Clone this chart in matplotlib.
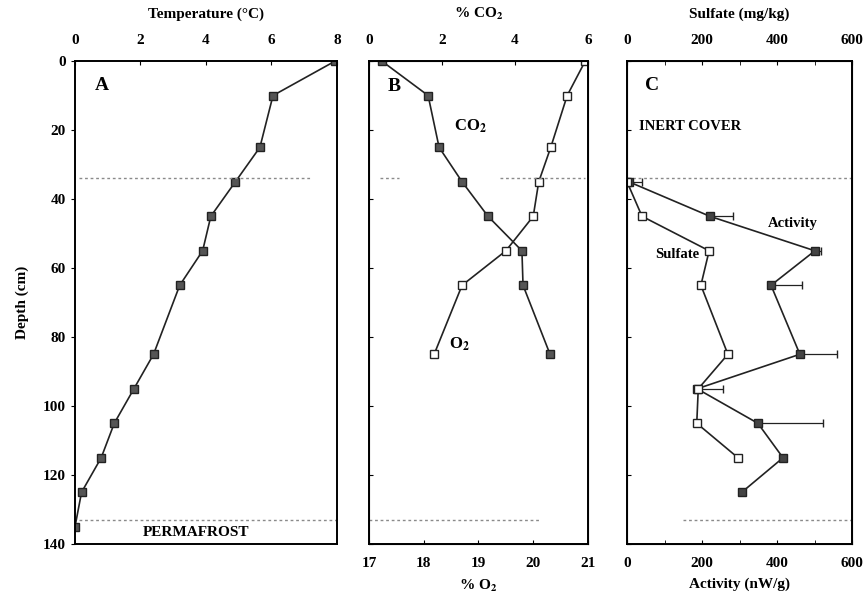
import matplotlib
matplotlib.use("Agg")
import matplotlib.pyplot as plt

plt.rcParams['font.family'] = ['Liberation Serif', 'DejaVu Serif']
plt.rcParams['font.size'] = 11
plt.rcParams['font.weight'] = 'bold'
plt.rcParams['axes.labelweight'] = 'bold'
plt.rcParams['mathtext.fontset'] = 'stix'
plt.rcParams['mathtext.default'] = 'bf'

# Panel A - temperature profile
temp_depth = [0, 10, 25, 35, 45, 55, 65, 85, 95, 105, 115, 125, 135]
temp_c = [7.95, 6.05, 5.65, 4.9, 4.15, 3.9, 3.2, 2.4, 1.8, 1.2, 0.8, 0.2, 0.0]

# Panel B - soil gas
gas_depth = [0, 10, 25, 35, 45, 55, 65, 85]
co2_pct = [0.35, 1.62, 1.92, 2.55, 3.26, 4.19, 4.22, 4.96]
o2_pct = [20.95, 20.62, 20.32, 20.1, 20.0, 19.5, 18.7, 18.19]

# Panel C - sulfate and microbial activity
sulf_depth = [35, 45, 55, 65, 85, 95, 105, 115]
sulfate = [0, 40, 219, 197, 269, 190, 186, 296]
act_depth = [35, 45, 55, 65, 85, 95, 105, 115, 125]
activity = [5, 221, 501, 384, 461, 187, 349, 416, 306]
activity_err = [35, 62, 15, 83, 99, 69, 173, 0, 0]

fig = plt.figure(figsize=(8.67, 6.02), dpi=100)
bottom, height = 0.0963, 0.8023
axA = fig.add_axes([0.0865, bottom, 0.302, height])
axB = fig.add_axes([0.4256, bottom, 0.2526, height])
axC = fig.add_axes([0.7232, bottom, 0.2595, height])

dash = dict(color='#8a8a8a', lw=1.0, ls=(0, (2, 2)))
line = dict(color='#222222', lw=1.2, marker='s', ms=5.5, mec='#222222')

for ax in (axA, axB, axC):
    ax.set_ylim(140, 0)
    for s in ax.spines.values():
        s.set_linewidth(1.4)
    ax.set_yticks(range(0, 141, 20))

# A
axA.plot(temp_c, temp_depth, mfc='#555555', **line)
axA.set_xlim(0, 8)
axA.xaxis.tick_top()
axA.xaxis.set_label_position('top')
axA.set_xticks([0, 2, 4, 6, 8])
axA.set_xlabel('Temperature (°C)', labelpad=12)
axA.set_ylabel('Depth (cm)', labelpad=10)
axA.tick_params(axis='x', direction='in', length=3, pad=10)
axA.tick_params(axis='y', direction='out', length=3)
axA.hlines(34, 0.12, 7.2, **dash)
axA.hlines(133, 0.12, 8, **dash)
axA.text(0.6, 7, 'A', fontsize=14, va='center')
axA.text(3.7, 136.6, 'PERMAFROST', fontsize=11, ha='center', va='center')

# B
axB.plot(o2_pct, gas_depth, mfc='white', **line)
axB.set_xlim(17, 21)
axB.set_xticks([17, 18, 19, 20, 21])
axB.set_xlabel('% O$_2$', labelpad=6)
axB.tick_params(axis='x', direction='in', length=3, pad=9)
axB.tick_params(axis='y', direction='in', length=3, labelleft=False)
axB.hlines(34, 17.2, 17.55, **dash)
axB.hlines(34, 19.4, 20.95, **dash)
axB.hlines(133, 17.0, 20.1, **dash)
axB.text(18.66, 82, 'O$_2$', fontsize=12, ha='center', va='center')
axB2 = axB.twiny()
axB2.plot(co2_pct, gas_depth, mfc='#555555', **line)
axB2.set_xlim(0, 6)
axB2.set_xticks([0, 2, 4, 6])
axB2.set_xlabel('% CO$_2$', labelpad=12)
axB2.tick_params(axis='x', direction='in', length=3, pad=10)
axB2.set_ylim(140, 0)
axB2.text(0.5, 7.5, 'B', fontsize=14, va='center')
axB2.text(2.77, 19, 'CO$_2$', fontsize=12, ha='center', va='center')

# C
axC.errorbar(activity, act_depth, xerr=[[0] * len(activity_err), activity_err],
             mfc='#444444', capsize=3, elinewidth=0.9, **line)
axC.set_xlim(0, 600)
axC.set_xticks([0, 200, 400, 600])
axC.set_xticks(range(0, 601, 100), minor=True)
axC.set_xlabel('Activity (nW/g)', labelpad=6)
axC.tick_params(axis='x', which='both', direction='in', length=3, pad=9)
axC.tick_params(axis='y', direction='in', length=3, labelleft=False)
axC.hlines(34, 0, 600, **dash)
axC.hlines(133, 150, 600, **dash)
axC.text(48, 7, 'C', fontsize=14, va='center')
axC.text(168, 19, 'INERT COVER', fontsize=10.5, ha='center', va='center')
axC.text(443, 47, 'Activity', fontsize=10.5, ha='center', va='center')
axC2 = axC.twiny()
axC2.plot(sulfate, sulf_depth, mfc='white', **line)
axC2.set_xlim(0, 600)
axC2.set_xticks([0, 200, 400, 600])
axC2.set_xticks(range(0, 601, 100), minor=True)
axC2.set_xlabel('Sulfate (mg/kg)', labelpad=12)
axC2.tick_params(axis='x', which='both', direction='in', length=3, pad=10)
axC2.set_ylim(140, 0)
axC2.text(133, 56, 'Sulfate', fontsize=10.5, ha='center', va='center')

fig.savefig('out.png', dpi=100)
